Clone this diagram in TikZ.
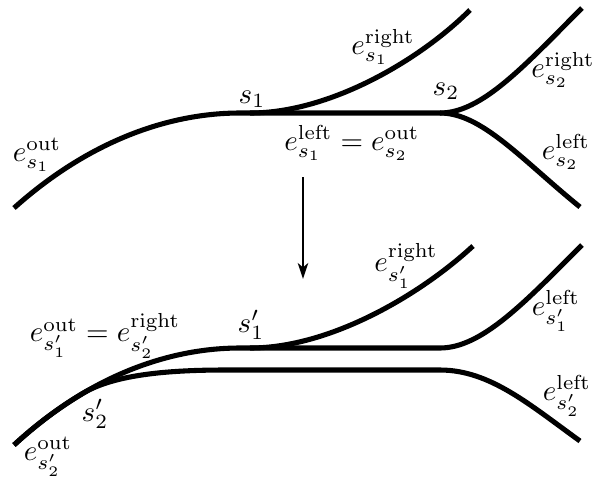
\documentclass[tikz,border=0pt]{standalone}
\usetikzlibrary{arrows.meta}
\begin{document}
\begin{tikzpicture}[x=0.345pt,y=-0.345pt,
  curve/.style={line width=1.75pt,line cap=butt},
  lbl/.style={inner sep=0pt,font=\normalsize}]
\useasboundingbox (0,0) rectangle (592,481);
% ---- top configuration ----
\coordinate (a0) at (14,208);
\coordinate (a1) at (240,113);
\coordinate (s2pt) at (440,113);
\coordinate (a2) at (582,8);
\coordinate (a3) at (580,207);
\coordinate (b0) at (250,113);
\coordinate (b1) at (470,10);
\draw[curve] (a0) .. controls (90,140) and (170,113) .. (a1) -- (s2pt)
  .. controls (482,113) and (525,65) .. (a2);
\draw[curve] (s2pt) .. controls (482,113) and (522,160) .. (a3);
\draw[curve] (b0) .. controls (330,113) and (420,60) .. (b1);
% ---- arrow ----
\coordinate (r0) at (303,177);
\coordinate (r1) at (303,279);
\draw[line width=0.7pt,-{Stealth[length=5.5pt,width=3.6pt,inset=1.5pt]}] (r0) -- (r1);
% ---- bottom configuration ----
\coordinate (c0) at (14,445);
\coordinate (c1) at (240,348);
\coordinate (c2) at (440,348);
\coordinate (c3) at (582,245);
\coordinate (d0) at (250,348);
\coordinate (d1) at (473,246);
\coordinate (sp) at (83.1,393.2);
\coordinate (f1) at (225,370);
\coordinate (f2) at (440,370);
\coordinate (f3) at (580,441);
\draw[curve] (c0) .. controls (90,375) and (170,348) .. (c1) -- (c2)
  .. controls (482,348) and (525,302) .. (c3);
\draw[curve] (d0) .. controls (330,348) and (420,295) .. (d1);
\draw[curve] (c0) .. controls (36.8,424) and (60,406.9) .. (sp)
  .. controls (110,377.2) and (155,370) .. (f1) -- (f2)
  .. controls (490,370) and (530,405) .. (f3);
% ---- labels top ----
\node[lbl] (l1) at (37,155) {$e^{\mathrm{out}}_{s_1}$};
\node[lbl] (l2) at (252,99) {$s_1$};
\node[lbl] (l3) at (383,47) {$e^{\mathrm{right}}_{s_1}$};
\node[lbl] (l4) at (446,91) {$s_2$};
\node[lbl] (l5) at (352,143) {$e^{\mathrm{left}}_{s_1}=e^{\mathrm{out}}_{s_2}$};
\node[lbl] (l6) at (563,70) {$e^{\mathrm{right}}_{s_2}$};
\node[lbl] (l7) at (566,152) {$e^{\mathrm{left}}_{s_2}$};
% ---- labels bottom ----
\node[lbl] (m1) at (105,336) {$e^{\mathrm{out}}_{s'_1}=e^{\mathrm{right}}_{s'_2}$};
\node[lbl] (m2) at (251,325) {$s'_1$};
\node[lbl] (m3) at (95,414) {$s'_2$};
\node[lbl] (m4) at (48,457) {$e^{\mathrm{out}}_{s'_2}$};
\node[lbl] (m5) at (406,266) {$e^{\mathrm{right}}_{s'_1}$};
\node[lbl] (m6) at (556,311) {$e^{\mathrm{left}}_{s'_1}$};
\node[lbl] (m7) at (567,396) {$e^{\mathrm{left}}_{s'_2}$};
\end{tikzpicture}
\end{document}
